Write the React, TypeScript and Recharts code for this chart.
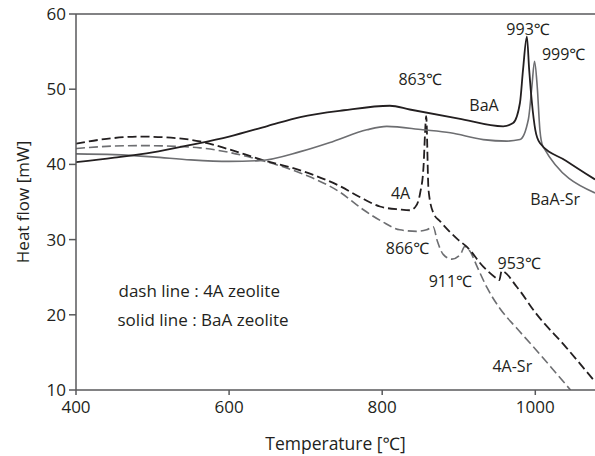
import { LineChart, Line, XAxis, YAxis, ReferenceLine, ReferenceDot } from "recharts";

// DSC curves: heat flow vs temperature
const baaTemp = [400, 450, 500, 550, 600, 650, 693, 750, 810, 836, 900, 958, 971, 980, 984, 989, 992, 995.6, 1000, 1006, 1040, 1078];
const baaHeat = [40.3, 40.9, 41.6, 42.6, 43.7, 45.1, 46.3, 47.2, 47.8, 47.3, 46.1, 45.06, 45.5, 48.2, 52.6, 57.0, 52.6, 48.2, 44.6, 42.85, 40.5, 38.0];

const baaSrTemp = [400, 450, 500, 550, 600, 640, 693, 736, 780, 806, 853, 889, 932, 963, 980, 991, 995.6, 999, 1002.5, 1006, 1010, 1078];
const baaSrHeat = [41.4, 41.3, 41.0, 40.6, 40.4, 40.5, 41.7, 43.06, 44.6, 45.06, 44.6, 44.2, 43.3, 43.1, 43.3, 46.0, 50.4, 53.7, 50.4, 44.6, 42.4, 36.2];

const a4Temp = [400, 440, 484, 530, 562, 600, 640, 693, 745, 770, 797, 823, 836, 843, 849.6, 854, 856, 857.5, 860.5, 867, 876, 899, 911, 932, 950, 953, 956, 976, 1000, 1040, 1078];
const a4Heat = [42.76, 43.4, 43.7, 43.5, 43.06, 42.0, 40.7, 39.2, 37.1, 35.7, 34.4, 34.0, 33.9, 34.3, 36.2, 39.7, 44.2, 46.4, 36.6, 33.5, 32.4, 30.0, 29.0, 26.4, 24.8, 24.6, 25.8, 23.7, 20.3, 15.7, 11.1];

const a4SrTemp = [400, 440, 484, 530, 562, 600, 640, 693, 745, 775, 800, 823, 845, 858, 866.6, 872, 880, 891, 902, 908, 915, 924, 937, 954, 975, 997, 1020, 1046];
const a4SrHeat = [42.1, 42.4, 42.5, 42.4, 42.2, 41.6, 40.6, 38.85, 36.3, 34.0, 32.4, 31.3, 31.1, 31.3, 31.7, 29.8, 28.0, 27.4, 28.0, 29.1, 28.4, 26.4, 23.6, 20.8, 18.3, 15.8, 13.1, 10.0];

const xTicks = [400, 600, 800, 1000];
const yTicks = [10, 20, 30, 40, 50, 60];

// peak / curve labels (temperature, heat flow)
const noteText = ["993℃", "999℃", "863℃", "BaA", "4A", "BaA-Sr", "866℃", "911℃", "953℃", "4A-Sr"];
const noteTemp = [990.5, 1037, 849.6, 933, 824, 1026, 833, 889, 979, 970];
const noteHeat = [57.9, 54.7, 51.3, 47.8, 36.2, 35.3, 28.8, 24.4, 26.9, 13.1];

// line style key in the lower left
const keyText = ["dash line : 4A zeolite", "solid line : BaA zeolite"];
const keyTemp = [561, 566];
const keyHeat = [23.2, 19.3];

const toPoints = (t: number[], h: number[]) => t.map((x, i) => ({ t: x, v: h[i] }));

const DARK = "#231f20";
const GRAY = "#6d6e71";
const AXIS = "#58595b";
const FONT = "'Open Sans', 'Noto Sans', sans-serif";

const App = () => {
  return (
    <div style={{ position: "absolute", left: 0, top: 0, background: "#fff" }}>
      <LineChart width={595} height={456} margin={{ top: 14, right: 0, bottom: 0, left: 0 }} style={{ fontFamily: FONT }}>
        <XAxis
          dataKey="t"
          type="number"
          domain={[400, 1078]}
          ticks={xTicks}
          allowDataOverflow
          height={66}
          stroke={AXIS}
          strokeWidth={1.5}
          tickSize={5}
          tickMargin={6}
          tick={{ fill: DARK, fontSize: 17 }}
          label={{ value: "Temperature [℃]", position: "insideBottom", offset: 6, fill: DARK, fontSize: 17.5 }}
        />
        <YAxis
          type="number"
          domain={[10, 60]}
          ticks={yTicks}
          allowDataOverflow
          width={76}
          stroke={AXIS}
          strokeWidth={1.5}
          tickSize={7}
          tickMargin={3}
          tick={{ fill: DARK, fontSize: 17 }}
          label={{ value: "Heat flow [mW]", angle: -90, position: "insideLeft", offset: 23, fill: DARK, fontSize: 17, style: { textAnchor: "middle" } }}
        />
        <ReferenceLine y={60} stroke={AXIS} strokeWidth={1.5} />
        <Line data={toPoints(a4SrTemp, a4SrHeat)} dataKey="v" type="monotone" stroke={GRAY} strokeWidth={1.6} strokeDasharray="9 4" dot={false} isAnimationActive={false} />
        <Line data={toPoints(a4Temp, a4Heat)} dataKey="v" type="monotone" stroke={DARK} strokeWidth={1.8} strokeDasharray="9 4" dot={false} isAnimationActive={false} />
        <Line data={toPoints(baaSrTemp, baaSrHeat)} dataKey="v" type="monotone" stroke={GRAY} strokeWidth={1.6} dot={false} isAnimationActive={false} />
        <Line data={toPoints(baaTemp, baaHeat)} dataKey="v" type="monotone" stroke={DARK} strokeWidth={1.8} dot={false} isAnimationActive={false} />
        {noteText.map((txt, i) => (
          <ReferenceDot
            key={txt}
            x={noteTemp[i]}
            y={noteHeat[i]}
            r={0}
            fill="none"
            stroke="none"
            label={{ value: txt, position: "center", fill: DARK, fontSize: 16 }}
          />
        ))}
        {keyText.map((txt, i) => (
          <ReferenceDot
            key={txt}
            x={keyTemp[i]}
            y={keyHeat[i]}
            r={0}
            fill="none"
            stroke="none"
            label={{ value: txt, position: "center", fill: DARK, fontSize: 17 }}
          />
        ))}
      </LineChart>
    </div>
  );
};

export default App;
